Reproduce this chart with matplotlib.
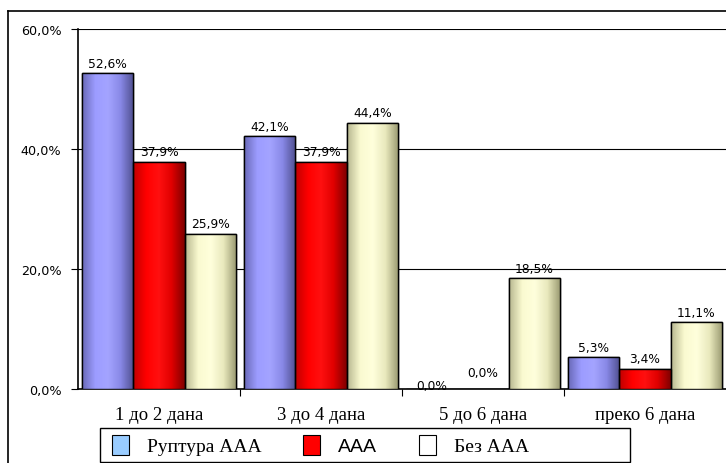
import numpy as np
import matplotlib
matplotlib.use("Agg")
import matplotlib.pyplot as plt
from matplotlib.colors import LinearSegmentedColormap
from matplotlib.patches import Patch, Rectangle
from matplotlib.lines import Line2D

categories = ["1 до 2 дана", "3 до 4 дана", "5 до 6 дана", "преко 6 дана"]
series_names = ["Руптура ААА", "ААА", "Без ААА"]
rupture = [52.6, 42.1, 0.0, 5.3]
aaa = [37.9, 37.9, 0.0, 3.4]
no_aaa = [25.9, 44.4, 18.5, 11.1]
yticks = [0, 20, 40, 60]
ytick_labels = ["0,0%", "20,0%", "40,0%", "60,0%"]

series = [rupture, aaa, no_aaa]
base_colors = ["#9999ff", "#ff0000", "#ffffcc"]
grad_colors = [
    ["#6a6ab8", "#9c9cff", "#a4a4ff", "#8888e6", "#505090"],
    ["#c00000", "#ff0000", "#ff1010", "#e00000", "#800000"],
    ["#b8b890", "#fafad0", "#ffffdc", "#e8e8bc", "#999970"],
]
legend_colors = ["#99ccff", "#ff0000", "#ffffff"]

fig = plt.figure(figsize=(7.26, 4.64), dpi=100)
ax = fig.add_axes([78 / 726, 1 - 390 / 464, 1 - 78 / 726, (390 - 30) / 464])

x = np.arange(len(categories))
w = 0.317
for i, (vals, col, gc) in enumerate(zip(series, base_colors, grad_colors)):
    bars = ax.bar(x + (i - 1) * w, vals, width=w, color=col, edgecolor="black",
                  linewidth=1.0, zorder=3)
    cmap = LinearSegmentedColormap.from_list(f"g{i}", gc)
    grad = np.linspace(0, 1, 64).reshape(1, -1)
    for b, v in zip(bars, vals):
        if v <= 0:
            continue
        im = ax.imshow(grad, cmap=cmap, aspect="auto", zorder=3.5,
                       extent=(b.get_x(), b.get_x() + b.get_width(), 0, b.get_height()),
                       interpolation="bilinear")
        im.set_clip_path(b)
        ax.add_patch(Rectangle((b.get_x(), 0), b.get_width(), b.get_height(),
                               fill=False, edgecolor="black", linewidth=1.0, zorder=4))
    for b, v in zip(bars, vals):
        off = 2.5
        if v == 0:
            off = -2.5 if i == 0 else 7
        ax.annotate(f"{v:.1f}%".replace(".", ","),
                    (b.get_x() + b.get_width() / 2, b.get_height()),
                    xytext=(0, off), textcoords="offset points",
                    ha="center", va="bottom", fontsize=8.8,
                    family="DejaVu Sans", zorder=5)

ax.set_xlim(-0.5, 3.5)
ax.set_ylim(0, 60)
ax.set_yticks(yticks)
ax.set_yticklabels(ytick_labels, fontsize=9.2, family="DejaVu Sans")
ax.yaxis.grid(True, color="black", linewidth=0.8, zorder=0)
ax.set_xticks([0.5, 1.5, 2.5])
ax.set_xticklabels([])
ax.set_xticks(x, minor=True)
ax.set_xticklabels(categories, minor=True, fontsize=13.5, family="Liberation Serif")
ax.tick_params(axis="x", which="minor", length=0, pad=12)
ax.tick_params(axis="x", which="major", length=5, direction="out")
ax.tick_params(axis="y", length=5, direction="out", pad=7)
for s in ["top", "right"]:
    ax.spines[s].set_visible(False)
ax.spines["left"].set_linewidth(1.2)
ax.spines["bottom"].set_linewidth(1.2)
ax.set_axisbelow(True)

# outer chart frame
fig.add_artist(Line2D([8 / 726, 8 / 726], [0, 1 - 12 / 464], color="black", lw=1.2,
                      transform=fig.transFigure))
fig.add_artist(Line2D([8 / 726, 1], [1 - 12 / 464, 1 - 12 / 464], color="black", lw=1.2,
                      transform=fig.transFigure))

# legend frame
fig.add_artist(Rectangle((100 / 726, 1 / 464), 530 / 726, 34 / 464, fill=False,
                         edgecolor="black", linewidth=1.0, transform=fig.transFigure))

handles = [Patch(facecolor=c, edgecolor="black", linewidth=0.8) for c in legend_colors]
leg = fig.legend(handles, series_names, ncol=3, loc="center left",
                 bbox_to_anchor=(112 / 726, 18 / 464),
                 frameon=False, borderpad=0.0, borderaxespad=0.0,
                 handlelength=0.87, handleheight=1.2,
                 handletextpad=0.93, columnspacing=2.15, prop={"size": 14})
fonts = ["Liberation Serif", "Liberation Sans", "Liberation Serif"]
for t, f in zip(leg.get_texts(), fonts):
    t.set_family(f)

fig.savefig("out.png", dpi=100)
